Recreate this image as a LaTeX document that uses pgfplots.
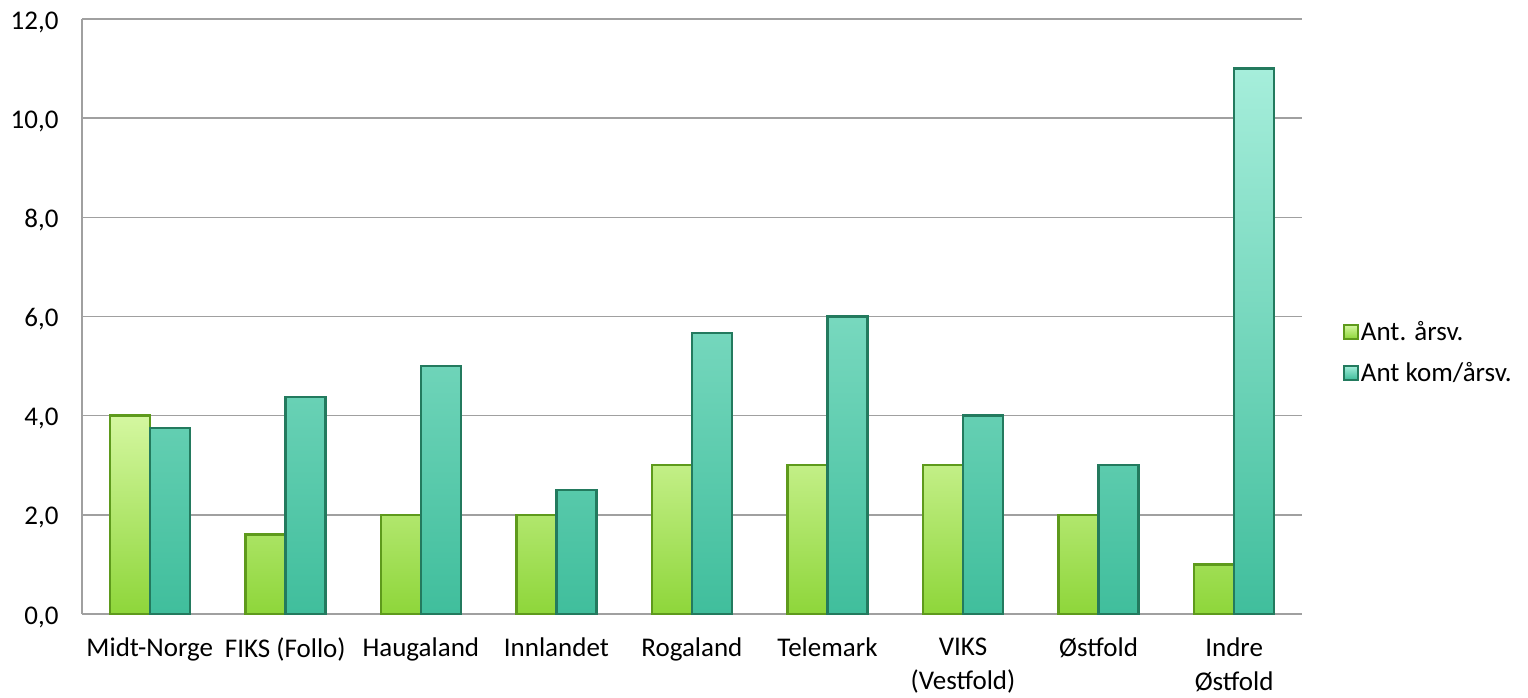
\documentclass[border=0pt]{standalone}
\usepackage{pgfplots}
\pgfplotsset{compat=1.18}
\usepackage{fontspec}
\setmainfont{Carlito}
\definecolor{gtop}{HTML}{D4F7A0}
\definecolor{gbot}{HTML}{8ED63A}
\definecolor{gedge}{HTML}{5E9A1C}
\definecolor{ttop}{HTML}{A6EEDB}
\definecolor{tbot}{HTML}{40BE9C}
\definecolor{tedge}{HTML}{237A5E}
\definecolor{gridgray}{HTML}{A0A0A0}
\newcommand{\lblfont}{\fontsize{27}{34}\selectfont}
\begin{document}
\begin{tikzpicture}
\begin{axis}[
  at={(0,0)}, anchor=south west,
  scale only axis,
  width=1220pt, height=595pt,
  ybar=0pt, bar width=40pt,
  xmin=-0.5, xmax=8.5,
  ymin=0, ymax=12,
  ytick={0,2,...,12},
  xtick=data,
  xticklabels={Midt-Norge,FIKS (Follo),Haugaland,Innlandet,Rogaland,Telemark,{VIKS\\(Vestfold)},Østfold,{Indre\\Østfold}},
  xticklabel style={align=center, font=\lblfont, yshift=-20pt},
  yticklabel style={font=\lblfont, xshift=-20pt, yshift=-3pt},
  /pgf/number format/assume math mode=true,
  yticklabel={\pgfmathprintnumber[fixed,fixed zerofill,precision=1,use comma]{\tick}},
  major tick length=0pt,
  ymajorgrids, grid style={gridgray, line width=1.6pt},
  axis x line*=bottom, axis y line*=left,
  axis line style={gridgray, line width=1.6pt},
  legend style={at={(1.031,0.44)}, anchor=west, draw=none, fill=none,
    font=\lblfont, row sep=16pt,
    /tikz/every even column/.append style={column sep=1pt}},
  legend cell align=left,
  legend image code/.code={\draw[#1, line width=2pt] (0pt,-7pt) rectangle (14pt,7pt);},
]
\addplot[draw=gedge, line width=2.4pt, top color=gtop, bottom color=gbot]
  coordinates {(0,4.0) (1,1.6) (2,2.0) (3,2.0) (4,3.0) (5,3.0) (6,3.0) (7,2.0) (8,1.0)};
\addplot[draw=tedge, line width=2.4pt, top color=ttop, bottom color=tbot]
  coordinates {(0,3.75) (1,4.375) (2,5.0) (3,2.5) (4,5.67) (5,6.0) (6,4.0) (7,3.0) (8,11.0)};
\legend{Ant. årsv.,Ant kom/årsv.}
\end{axis}
\path[use as bounding box] (-82pt,-83pt) rectangle (1446pt,614pt);
\end{tikzpicture}
\end{document}
